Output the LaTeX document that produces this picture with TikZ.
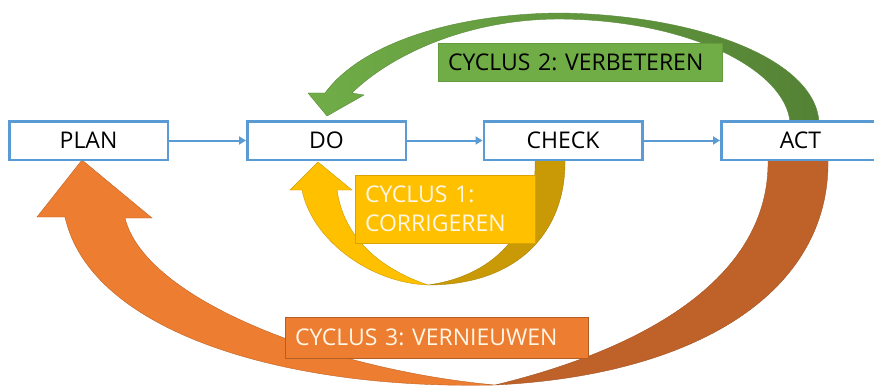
\documentclass[tikz,border=0pt]{standalone}
\usepackage{fontspec}
\setmainfont{Open Sans}
\usetikzlibrary{arrows.meta}
\definecolor{boxblue}{HTML}{5B9BD5}
\definecolor{grL}{HTML}{70AD47}
\definecolor{grD}{HTML}{548235}
\definecolor{yeL}{HTML}{FFC000}
\definecolor{yeD}{HTML}{C99A06}
\definecolor{orL}{HTML}{ED7D31}
\definecolor{orD}{HTML}{BF6229}
\definecolor{lighttext}{HTML}{FFF6E5}
\frenchspacing
\begin{document}
\begin{tikzpicture}[x=1pt,y=-1pt,
  pdca/.style={draw=boxblue, line width=2.5pt, fill=white, minimum width=158.5pt,
    minimum height=38.5pt, inner sep=0pt, text height=16.4pt, text depth=0pt,
    font=\fontsize{23}{28}\selectfont},
  flow/.style={draw=boxblue, line width=2pt, -{Triangle[length=7pt,width=8pt]}},
  cycbox/.style={inner xsep=10pt, inner ysep=0pt, align=left, line width=0.6pt,
    font=\fontsize{23}{29}\selectfont},
]
\useasboundingbox (0,0) rectangle (874,385);

% orange: cycle 3
\filldraw[fill=orD, draw=orD!85!black, line width=0.4pt]
  (495,385) .. controls (700,375) and (830,290) .. (828,160) -- (828,150) -- (768,150) -- (768,160)
  .. controls (770,280) and (640,350) .. (495,385) -- cycle;
\filldraw[fill=orL, draw=orL!80!black, line width=0.4pt]
  (495,385) .. controls (280,390) and (90,330) .. (65,217) -- (37,217) -- (82,160) -- (152,218) -- (125,218)
  .. controls (145,300) and (330,370) .. (495,385) -- cycle;

% yellow: cycle 1
\filldraw[fill=yeD, draw=yeD!85!black, line width=0.4pt]
  (428,285) .. controls (520,285) and (566,230) .. (565,160) -- (565,155) -- (535,155) -- (535,160)
  .. controls (537,225) and (500,275) .. (428,285) -- cycle;
\filldraw[fill=yeL, draw=yeL!80!black, line width=0.4pt]
  (428,285) .. controls (370,283) and (312,240) .. (302,190) -- (290,190) -- (318,162) -- (352,190) -- (337,190)
  .. controls (345,245) and (390,272) .. (428,285) -- cycle;

% green: cycle 2
\shadedraw[left color=grL, right color=grD, draw=grL!80!black, line width=0.4pt]
  (819,122) .. controls (815,60) and (700,15) .. (560,13)
  .. controls (450,14) and (360,45) .. (325,93) -- (308,93) -- (327,116) -- (364,95) -- (352,93)
  .. controls (385,60) and (460,19) .. (560,19)
  .. controls (690,20) and (785,70) .. (790,122) -- cycle;

% PDCA boxes
\node[pdca] (plan) at (88.5,140.5) {PLAN};
\node[pdca] (do) at (326.5,140.5) {DO};
\node[pdca] (check) at (563,140.5) {CHECK};
\node[pdca] (act) at (800.5,140.5) {ACT};
\draw[flow] (plan) -- (do);
\draw[flow] (do) -- (check);
\draw[flow] (check) -- (act);

% cycle labels
\node[cycbox, fill=grL, draw=grL!90!black, text=black, text width=264pt,
  minimum height=38pt, text height=16.4pt, text depth=0pt] (c2) at (580,62) {CYCLUS 2: VERBETEREN};
\node[cycbox, fill=yeL, draw=yeL!85!black, text=lighttext, text width=160pt,
  minimum height=68pt] (c1) at (445,209) {CYCLUS 1:\\CORRIGEREN};
\node[cycbox, fill=orL, draw=orL!75!black, text=lighttext, text width=283pt,
  minimum height=41pt, text height=16.4pt, text depth=0pt] (c3) at (436.5,337.5) {CYCLUS 3: VERNIEUWEN};
\end{tikzpicture}
\end{document}
